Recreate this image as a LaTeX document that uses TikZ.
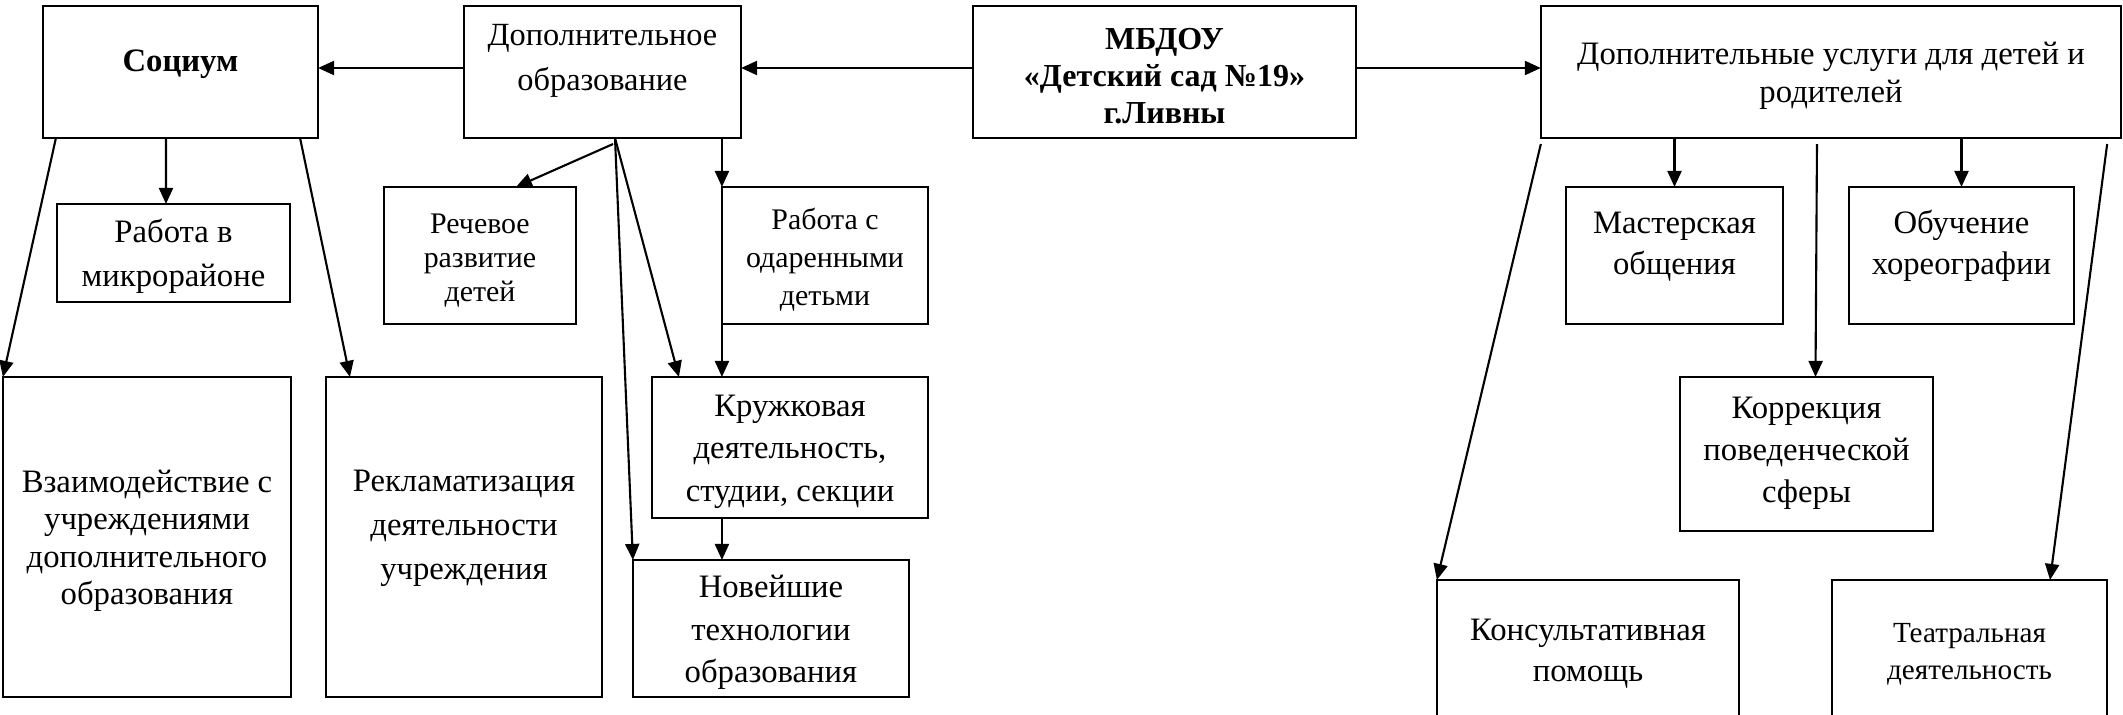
\documentclass[tikz,border=0pt]{standalone}
\usepackage{fontspec}
\setmainfont{Liberation Serif}
\usetikzlibrary{arrows.meta}
\newcommand\fs[2]{\fontsize{#1pt}{#2pt}\selectfont}
\newcommand\up[1]{\rule[-#1]{0pt}{0pt}}
\newcommand\dn{\rule{0pt}{0.3cm}}

\begin{document}
\begin{tikzpicture}[x=0.01cm,y=-0.01cm,
    box/.style={draw,line width=0.4pt,align=center,inner sep=0pt,outer sep=0pt},
    arr/.style={-{Triangle[length=0.16cm,width=0.14cm]},line width=0.6pt}]
    \useasboundingbox (0,0) rectangle (2123,715);

    % top row
    \node[box,minimum width=2.75cm,minimum height=1.32cm,font=\fs{9.3}{12}\bfseries] (soc) at (180.5,72) {\dn Социум\up{0.31cm}};
    \node[box,minimum width=2.77cm,minimum height=1.32cm,font=\fs{9.2}{12.8}] (dop) at (602.5,72) {\dn Дополнительное\\образование\up{0.38cm}};
    \node[box,minimum width=3.83cm,minimum height=1.32cm,font=\fs{9.1}{10.5}\bfseries] (mbdou) at (1164.5,72) {\dn МБДОУ\\«Детский сад №19»\\г.Ливны};
    \node[box,minimum width=5.8cm,minimum height=1.32cm,font=\fs{9.3}{10.7}] (usl) at (1831,72) {\dn Дополнительные услуги для детей и\\родителей};

    % left part
    \node[box,minimum width=2.33cm,minimum height=0.98cm,font=\fs{9.3}{12.5}] (rab) at (173.5,253) {\dn Работа в\\микрорайоне};
    \node[box,minimum width=1.92cm,minimum height=1.37cm,font=\fs{8.5}{9.7}] (rech) at (480,255.5) {\dn Речевое\\развитие\\детей};
    \node[box,minimum width=2.06cm,minimum height=1.37cm,font=\fs{8.5}{10.7}] (odar) at (825,255.5) {\dn Работа с\\одаренными\\детьми};
    \node[box,minimum width=2.88cm,minimum height=3.2cm,font=\fs{9.3}{10.7}] (vzaim) at (147,537) {\dn Взаимодействие с\\учреждениями\\дополнительного\\образования};
    \node[box,minimum width=2.76cm,minimum height=3.2cm,font=\fs{9.3}{12.5}] (reklam) at (464,537) {\dn Рекламатизация\\деятельности\\учреждения\up{0.33cm}};
    \node[box,minimum width=2.76cm,minimum height=1.41cm,font=\fs{9.3}{12}] (kruzh) at (790,447.5) {\dn Кружковая\\деятельность,\\студии, секции};
    \node[box,minimum width=2.76cm,minimum height=1.37cm,font=\fs{9.3}{12.1}] (nov) at (771,628.5) {\dn Новейшие\\технологии\\образования};

    % right part
    \node[box,minimum width=2.17cm,minimum height=1.37cm,font=\fs{9.3}{11.4}] (master) at (1674.5,255.5) {\dn Мастерская\\общения\up{0.33cm}};
    \node[box,minimum width=2.25cm,minimum height=1.37cm,font=\fs{9.3}{11.6}] (hor) at (1961.5,255.5) {\dn Обучение\\хореографии\up{0.33cm}};
    \node[box,minimum width=2.53cm,minimum height=1.54cm,font=\fs{9.3}{12}] (korr) at (1806.5,454) {\dn Коррекция\\поведенческой\\сферы\up{0.17cm}};
    \node[box,minimum width=3.02cm,minimum height=1.5cm,font=\fs{9.3}{11.4}] (kons) at (1588,655) {\dn Консультативная\\помощь\up{0.18cm}};
    \node[box,minimum width=2.75cm,minimum height=1.5cm,font=\fs{8.3}{10.5}] (teatr) at (1969.5,655) {\dn Театральная\\деятельность\up{0.18cm}};

    \draw[arr] ([yshift=0.04cm]mbdou.west) -- ([yshift=0.04cm]dop.east);
    \draw[arr] ([yshift=0.04cm]mbdou.east) -- ([yshift=0.04cm]usl.west);
    \draw[arr] ([yshift=0.04cm]dop.west) -- ([yshift=0.04cm]soc.east);

    \draw[arr] ([xshift=-0.145cm]soc.south) -- ([xshift=-0.075cm]rab.north);
    \draw[arr] ([xshift=0.13cm]soc.south west) -- (vzaim.north west);
    \draw[arr] ([xshift=-0.18cm]soc.south east) -- ([xshift=0.24cm]reklam.north west);

    \draw[arr] ([xshift=0.105cm,yshift=-0.06cm]dop.south) -- ([xshift=0.36cm]rech.north);
    \draw[arr] (dop.south -| odar.north west) -- (odar.north west);
    \draw[arr] (odar.south west) -- (odar.south west |- kruzh.north);
    \draw[arr] (kruzh.south -| odar.west) -- (nov.north -| odar.west);
    \draw[arr] ([xshift=0.125cm]dop.south) -- ([xshift=0.27cm]kruzh.north west);
    \draw[arr] ([xshift=0.125cm]dop.south) -- (nov.north west);

    \draw[arr] (usl.south -| master.north) -- (master.north);
    \draw[arr] (usl.south -| hor.north) -- (hor.north);
    \draw[arr] ([xshift=-0.14cm,yshift=-0.06cm]usl.south) -- ([xshift=0.09cm]korr.north);
    \draw[arr] ([yshift=-0.06cm]usl.south west) -- (kons.north west);
    \draw[arr] ([xshift=-0.14cm,yshift=-0.06cm]usl.south east) -- ([xshift=-0.57cm]teatr.north east);
\end{tikzpicture}
\end{document}
